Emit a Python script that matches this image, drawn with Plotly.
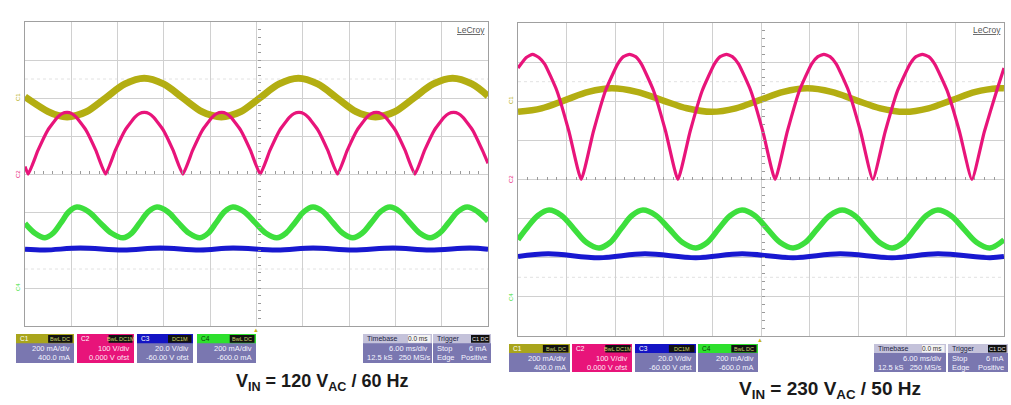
import plotly.graph_objects as go

W, H = 1011, 405

# ------------------------------------------------------------------
# Data (units: oscilloscope divisions, x 0..10, y 0..8)
# ------------------------------------------------------------------
# Left scope : V_IN = 120 VAC / 60 Hz
L_c1_x = [0.0, 0.50, 0.71, 0.91, 1.11, 1.33, 1.74, 2.16, 2.575, 2.99, 3.41, 3.82, 4.04, 4.24,
          4.44, 4.66, 5.07, 5.49, 5.905, 6.32, 6.74, 7.15, 7.37, 7.57, 7.77, 7.99, 8.40, 8.82,
          9.235, 9.65, 10.0]
L_c1_y = [6.03, 5.64, 5.54, 5.50, 5.54, 5.64, 6.00, 6.37, 6.52, 6.37, 6.00, 5.64, 5.54, 5.50,
          5.54, 5.64, 6.00, 6.37, 6.52, 6.37, 6.00, 5.64, 5.54, 5.50, 5.54, 5.64, 6.00, 6.37,
          6.52, 6.37, 6.05]

L_c2_x = [0.0, 0.07, 0.28, 0.49, 0.70, 0.80, 0.91, 1.01, 1.11, 1.32, 1.53, 1.74,
          1.95, 2.16, 2.37, 2.47, 2.58, 2.68, 2.78, 2.99, 3.20, 3.41,
          3.62, 3.83, 4.04, 4.14, 4.25, 4.35, 4.45, 4.66, 4.87, 5.08,
          5.29, 5.50, 5.71, 5.81, 5.92, 6.02, 6.12, 6.33, 6.54, 6.75,
          6.96, 7.17, 7.38, 7.48, 7.59, 7.69, 7.79, 8.00, 8.21, 8.42,
          8.63, 8.84, 9.05, 9.15, 9.26, 9.36, 9.46, 9.67, 9.88, 10.0]
L_c2_y = [4.20, 4.00,
          4.62, 5.15, 5.49, 5.59, 5.62, 5.59, 5.49, 5.15, 4.62, 4.00,
          4.62, 5.15, 5.49, 5.59, 5.62, 5.59, 5.49, 5.15, 4.62, 4.00,
          4.62, 5.15, 5.49, 5.59, 5.62, 5.59, 5.49, 5.15, 4.62, 4.00,
          4.62, 5.15, 5.49, 5.59, 5.62, 5.59, 5.49, 5.15, 4.62, 4.00,
          4.62, 5.15, 5.49, 5.59, 5.62, 5.59, 5.49, 5.15, 4.62, 4.00,
          4.62, 5.15, 5.49, 5.59, 5.62, 5.59, 5.49, 5.15, 4.62, 4.28]

L_c3_x = [0.0, 0.43, 1.19, 2.12, 2.92, 3.78, 4.49, 5.44, 6.22, 7.08, 7.95, 8.75, 9.61, 10.0]
L_c3_y = [2.02, 2.00, 2.05, 2.00, 2.05, 2.00, 2.05, 2.00, 2.05, 2.00, 2.05, 2.00, 2.05, 2.02]

L_c4_x = [0.0, 0.215, 0.43, 0.605, 0.78, 0.95, 1.12, 1.37, 1.62, 1.87, 2.12, 2.30, 2.48, 2.665,
          2.85, 3.08, 3.31, 3.545, 3.78, 3.955, 4.13, 4.31, 4.49, 4.73, 4.97, 5.205, 5.44,
          5.635, 5.83, 6.025, 6.22, 6.435, 6.65, 6.865, 7.08, 7.28, 7.48, 7.68, 7.88, 8.095,
          8.31, 8.53, 8.75, 8.95, 9.15, 9.35, 9.55, 9.775, 10.0]
L_c4_y = [2.70, 2.44, 2.32, 2.44, 2.72, 3.01, 3.13, 3.01, 2.72, 2.44, 2.32, 2.44, 2.72, 3.01,
          3.13, 3.01, 2.72, 2.44, 2.32, 2.44, 2.72, 3.01, 3.13, 3.01, 2.72, 2.44, 2.32,
          2.44, 2.72, 3.01, 3.13, 3.01, 2.72, 2.44, 2.32, 2.44, 2.72, 3.01, 3.13, 3.01,
          2.72, 2.44, 2.32, 2.44, 2.72, 3.01, 3.13, 3.01, 2.76]

# Right scope : V_IN = 230 VAC / 50 Hz
R_c1_x = [0.0, 0.485, 0.97, 1.45, 1.93, 2.445, 2.96, 3.475, 3.99, 4.48, 4.97, 5.46, 5.95,
          6.45, 6.95, 7.455, 7.96, 8.445, 8.93, 9.415, 9.9, 10.0]
R_c1_y = [5.73, 5.82, 6.03, 6.24, 6.33, 6.24, 6.03, 5.82, 5.73, 5.82, 6.03, 6.24, 6.33,
          6.24, 6.03, 5.82, 5.73, 5.82, 6.03, 6.24, 6.33, 6.33]

R_c2_x = [0.0, 0.17, 0.30, 0.43, 0.55, 0.80, 1.05, 1.30,
          1.55, 1.80, 2.05, 2.17, 2.295, 2.42, 2.54, 2.79, 3.04, 3.29,
          3.54, 3.79, 4.04, 4.16, 4.29, 4.41, 4.54, 4.79, 5.04, 5.29,
          5.54, 5.79, 6.04, 6.17, 6.295, 6.42, 6.55, 6.80, 7.05, 7.30,
          7.555, 7.81, 8.065, 8.19, 8.32, 8.45, 8.575, 8.83, 9.085, 9.34,
          9.595, 9.85, 10.0]
R_c2_y = [6.85, 7.12, 7.20, 7.12, 6.95, 6.27, 5.22, 4.00,
          5.22, 6.27, 6.95, 7.14, 7.20, 7.14, 6.95, 6.27, 5.22, 4.00,
          5.22, 6.27, 6.95, 7.14, 7.20, 7.14, 6.95, 6.27, 5.22, 4.00,
          5.22, 6.27, 6.95, 7.14, 7.20, 7.14, 6.95, 6.27, 5.22, 4.00,
          5.22, 6.27, 6.95, 7.14, 7.20, 7.14, 6.95, 6.27, 5.22, 4.00,
          5.22, 6.27, 6.85]

R_c3_x = [0.0, 0.62, 1.67, 2.61, 3.66, 4.61, 5.66, 6.63, 7.70, 8.64, 9.71, 10.0]
R_c3_y = [2.03, 2.10, 2.00, 2.10, 2.00, 2.10, 2.00, 2.10, 2.00, 2.10, 2.00, 2.03]

R_c4_x = [0.0, 0.17, 0.41, 0.64, 0.895, 1.15, 1.41, 1.67, 1.895, 2.12, 2.345, 2.57, 2.84,
          3.11, 3.385, 3.66, 3.895, 4.13, 4.37, 4.61, 4.87, 5.13, 5.395, 5.66, 5.91, 6.16,
          6.415, 6.67, 6.925, 7.18, 7.44, 7.70, 7.935, 8.17, 8.405, 8.64, 8.905, 9.17, 9.44,
          9.71, 10.0]
R_c4_y = [2.46, 2.74, 3.08, 3.22, 3.08, 2.74, 2.39, 2.25, 2.39, 2.74, 3.08, 3.22, 3.08,
          2.74, 2.39, 2.25, 2.39, 2.74, 3.08, 3.22, 3.08, 2.74, 2.39, 2.25, 2.39, 2.74,
          3.08, 3.22, 3.08, 2.74, 2.39, 2.25, 2.39, 2.74, 3.08, 3.22, 3.08, 2.74, 2.39,
          2.25, 2.46]

ref_levels = [6.5, 1.5]

titles = ["V<sub>IN</sub> = 120 V<sub>AC</sub> / 60 Hz",
          "V<sub>IN</sub> = 230 V<sub>AC</sub> / 50 Hz"]

ch_labels = ["C1", "C2", "C3", "C4"]
ch_scale = ["200 mA/div", "100 V/div", "20.0 V/div", "200 mA/div"]
ch_offset = ["400.0 mA", "0.000 V ofst", "-60.00 V ofst", "-600.0 mA"]
tb_lines = ["6.00 ms/div", "12.5 kS   250 MS/s"]
trig_lines = [("Stop", "6 mA"), ("Edge", "Positive")]

# ------------------------------------------------------------------
# Styling
# ------------------------------------------------------------------
YEL = "#b3ae12"
PNK = "#e8147a"
BLU = "#1818d0"
GRN = "#3ddf3d"
BODY = "#7a77b0"
GRID = "#d0d0d0"
FRAME = "#a0a0a0"
FONT = "Liberation Sans"


def pxx(p):
    return p / W


def pxy(p):
    return 1 - p / H


# plot areas in pixels: (x0, x1, ytop, ybottom)
LEFT = (25, 488, 22, 326)
RIGHT = (518, 1004, 23, 336)

fig = go.Figure()


def add_traces(xa, ya, c1, c2, c3, c4, yw):
    fig.add_trace(go.Scatter(x=c1[0], y=c1[1], mode="lines", xaxis=xa, yaxis=ya,
                             line=dict(color=YEL, width=yw, shape="spline", smoothing=1.0),
                             hoverinfo="skip", showlegend=False))
    fig.add_trace(go.Scatter(x=c2[0], y=c2[1], mode="lines", xaxis=xa, yaxis=ya,
                             line=dict(color=PNK, width=3.2, shape="spline", smoothing=0.45),
                             hoverinfo="skip", showlegend=False))
    fig.add_trace(go.Scatter(x=c3[0], y=c3[1], mode="lines", xaxis=xa, yaxis=ya,
                             line=dict(color=BLU, width=5, shape="spline", smoothing=1.0),
                             hoverinfo="skip", showlegend=False))
    fig.add_trace(go.Scatter(x=c4[0], y=c4[1], mode="lines", xaxis=xa, yaxis=ya,
                             line=dict(color=GRN, width=5.5, shape="spline", smoothing=1.0),
                             hoverinfo="skip", showlegend=False))


add_traces("x", "y", (L_c1_x, L_c1_y), (L_c2_x, L_c2_y), (L_c3_x, L_c3_y), (L_c4_x, L_c4_y), 7)
add_traces("x2", "y2", (R_c1_x, R_c1_y), (R_c2_x, R_c2_y), (R_c3_x, R_c3_y), (R_c4_x, R_c4_y), 6.5)

# dummy traces so the centre tick axes get drawn
fig.add_trace(go.Scatter(x=[None], y=[None], xaxis="x3", yaxis="y3", showlegend=False))
fig.add_trace(go.Scatter(x=[None], y=[None], xaxis="x4", yaxis="y4", showlegend=False))


def main_axes(area):
    x0, x1, yt, yb = area
    xa = dict(domain=[pxx(x0), pxx(x1)], range=[0, 10], dtick=1, tick0=0,
              showgrid=True, gridcolor=GRID, gridwidth=1, zeroline=False,
              showline=True, linecolor=FRAME, linewidth=1, mirror=True,
              showticklabels=False, ticks="", fixedrange=True)
    ya = dict(domain=[pxy(yb), pxy(yt)], range=[0, 8], dtick=1, tick0=0,
              showgrid=True, gridcolor=GRID, gridwidth=1, zeroline=False,
              showline=True, linecolor=FRAME, linewidth=1, mirror=True,
              showticklabels=False, ticks="", fixedrange=True)
    return xa, ya


def centre_axes(area, ov_x, ov_y):
    x0, x1, yt, yb = area
    ymid = (pxy(yb) + pxy(yt)) / 2
    xmid = (pxx(x0) + pxx(x1)) / 2
    xa = dict(overlaying=ov_x, anchor="free", position=ymid, range=[0, 10], dtick=0.2,
              tick0=0, ticks="inside", ticklen=3, tickcolor="#9a9a9a", showgrid=False,
              zeroline=False, showline=False, showticklabels=False, fixedrange=True)
    ya = dict(overlaying=ov_y, anchor="free", position=xmid, range=[0, 8], dtick=0.2,
              tick0=0, ticks="inside", ticklen=3, tickcolor="#9a9a9a", showgrid=False,
              zeroline=False, showline=False, showticklabels=False, fixedrange=True)
    return xa, ya


xa1, ya1 = main_axes(LEFT)
xa2, ya2 = main_axes(RIGHT)
ya2["anchor"] = "x2"
xa2["anchor"] = "y2"
xa3, ya3 = centre_axes(LEFT, "x", "y")
xa4, ya4 = centre_axes(RIGHT, "x2", "y2")

shapes = []
annotations = []

# faint reference level lines
for ax, ay in (("x", "y"), ("x2", "y2")):
    for lv in ref_levels:
        shapes.append(dict(type="line", xref=ax, yref=ay, x0=0, x1=10, y0=lv, y1=lv,
                           line=dict(color="#e2e2e2", width=1, dash="dot"), layer="below"))


def rect(x0, y0, x1, y1, fill, line=None):
    return dict(type="rect", xref="paper", yref="paper",
                x0=pxx(x0), x1=pxx(x1), y0=pxy(y1), y1=pxy(y0),
                fillcolor=fill, line=dict(width=0 if line is None else 1,
                                          color=line or fill), layer="above")


def text(x, y, s, size=7.5, color="#ffffff", anchor="left", angle=0, family=FONT):
    annotations.append(dict(xref="paper", yref="paper", x=pxx(x), y=pxy(y), text=s,
                            showarrow=False, xanchor=anchor, yanchor="middle",
                            textangle=angle,
                            font=dict(size=size, color=color, family=family)))


def channel_box(x0, x1, y0, y1, head_col, body_col, label, head_txt_col, badge, l1, l2,
                txt_col="#f4f4ff"):
    hh = (y1 - y0) * 0.32
    shapes.append(rect(x0, y0, x1, y1, body_col))
    shapes.append(rect(x0, y0, x1, y0 + hh, head_col))
    bw = (x1 - x0) * 0.42
    shapes.append(rect(x1 - bw - 1.5, y0 + 1, x1 - 1.5, y0 + hh - 0.5, "#111111"))
    text(x0 + 2, y0 + hh / 2 + 0.3, label, size=6.5, color=head_txt_col)
    text(x1 - 1.5 - bw / 2, y0 + hh / 2 + 0.3, badge, size=5.5, color="#cfd86a", anchor="center")
    bh = (y1 - y0) - hh
    text(x1 - 2, y0 + hh + bh * 0.28, l1, size=7.5, color=txt_col, anchor="right")
    text(x1 - 2, y0 + hh + bh * 0.74, l2, size=7.5, color=txt_col, anchor="right")


def info_bar(boxes, y0, y1, tb, tr):
    heads = [("#a9a51c", BODY, "#ffffff", "BwL DC"),
             (PNK, PNK, "#ffffff", "BwL DC1M"),
             ("#1414c4", BODY, "#ffffff", "DC1M"),
             ("#2ee02e", BODY, "#0a3a0a", "BwL DC")]
    for i, (bx0, bx1) in enumerate(boxes):
        hc, bc, htc, badge = heads[i]
        channel_box(bx0, bx1, y0, y1, hc, bc, ch_labels[i], htc, badge,
                    ch_scale[i], ch_offset[i],
                    txt_col="#ffe6f2" if i == 1 else "#f4f4ff")
    hh = (y1 - y0) * 0.32
    bh = (y1 - y0) - hh
    # timebase
    x0, x1 = tb
    shapes.append(rect(x0, y0, x1, y1, BODY))
    shapes.append(rect(x0, y0, x1, y0 + hh, "#c4c2da"))
    shapes.append(rect(x1 - 24, y0 + 1, x1 - 1.5, y0 + hh - 0.5, "#f2f2f2"))
    text(x0 + 2, y0 + hh / 2 + 0.3, "Timebase", size=7, color="#222244")
    text(x1 - 2.5, y0 + hh / 2 + 0.3, "0.0 ms", size=6.5, color="#333333", anchor="right")
    text(x1 - 2, y0 + hh + bh * 0.28, tb_lines[0], size=7.5, color="#f4f4ff", anchor="right")
    text(x0 + 2, y0 + hh + bh * 0.74, tb_lines[1], size=7.5, color="#f4f4ff")
    # trigger
    x0, x1 = tr
    shapes.append(rect(x0, y0, x1, y1, BODY))
    shapes.append(rect(x0, y0, x1, y0 + hh, "#c4c2da"))
    shapes.append(rect(x1 - 20, y0 + 1, x1 - 1.5, y0 + hh - 0.5, "#111111"))
    text(x0 + 2, y0 + hh / 2 + 0.3, "Trigger", size=7, color="#222244")
    text(x1 - 11, y0 + hh / 2 + 0.3, "C1 DC", size=5.5, color="#e8e8e8", anchor="center")
    for k, (a, b) in enumerate(trig_lines):
        yy = y0 + hh + bh * (0.28 if k == 0 else 0.74)
        text(x0 + 2, yy, a, size=7.5, color="#f4f4ff")
        text(x1 - 2, yy, b, size=7.5, color="#f4f4ff", anchor="right")


info_bar([(16, 74), (77, 134), (137, 193), (197, 256)], 334, 363, (363, 432), (433, 491))
info_bar([(509, 570), (572, 632), (635, 696), (698, 758)], 344, 372, (874, 946), (948, 1008))

# LeCroy logos
text(471, 30, "<u>LeCroy</u>", size=8.5, color="#555555", anchor="center")
text(987, 30, "<u>LeCroy</u>", size=8.5, color="#555555", anchor="center")

# channel ground markers
for (xx, yy, lab, col) in [(18, 97, "C1", YEL), (18, 174, "C2", PNK), (18, 287, "C4", GRN),
                           (511, 100, "C1", YEL), (511, 179, "C2", PNK), (511, 297, "C4", GRN)]:
    text(xx, yy, lab, size=6, color=col, anchor="center", angle=-90)

# trigger position markers
text(256, 329.5, "▲", size=6, color="#c8b818", anchor="center")
text(760, 339.5, "▲", size=6, color="#c8b818", anchor="center")

# titles
annotations.append(dict(xref="paper", yref="paper", x=pxx(322), y=pxy(382),
                        text="<b>" + titles[0] + "</b>",
                        showarrow=False, xanchor="center", yanchor="middle",
                        font=dict(size=18, color="#1a1a1a", family=FONT)))
annotations.append(dict(xref="paper", yref="paper", x=pxx(830), y=pxy(390),
                        text="<b>" + titles[1] + "</b>",
                        showarrow=False, xanchor="center", yanchor="middle",
                        font=dict(size=19, color="#1a1a1a", family=FONT)))

fig.update_layout(
    width=W, height=H,
    margin=dict(l=0, r=0, t=0, b=0),
    paper_bgcolor="#ffffff", plot_bgcolor="#ffffff",
    xaxis=xa1, yaxis=ya1, xaxis2=xa2, yaxis2=ya2,
    xaxis3=xa3, yaxis3=ya3, xaxis4=xa4, yaxis4=ya4,
    shapes=shapes, annotations=annotations,
    showlegend=False,
)

fig.write_html("out.html", config={"displayModeBar": False},
               post_script="document.body.style.margin='0px';document.body.style.overflow='hidden';")
